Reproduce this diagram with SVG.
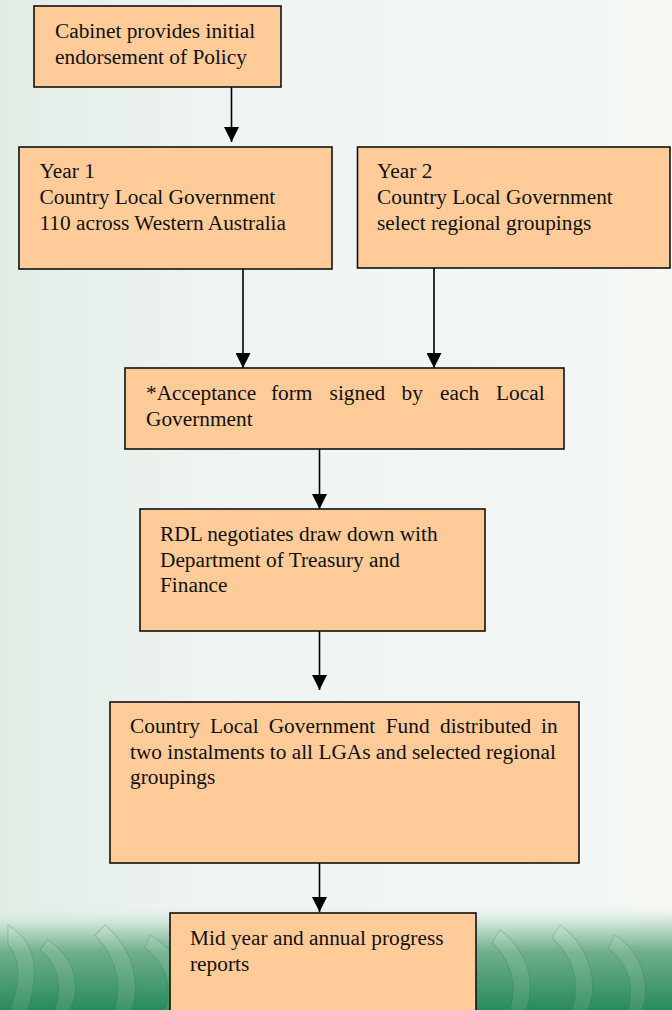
<svg xmlns="http://www.w3.org/2000/svg" width="672" height="1010" viewBox="0 0 672 1010">
<defs>
<linearGradient id="bgH" x1="0" y1="0" x2="1" y2="0">
<stop offset="0" stop-color="#e2ece5"/>
<stop offset="0.3" stop-color="#eef4f1"/>
<stop offset="0.9" stop-color="#f2f7f5"/>
<stop offset="0.97" stop-color="#f8f8f3"/>
<stop offset="1" stop-color="#fbf8f2"/>
</linearGradient>
<linearGradient id="bgV" x1="0" y1="905" x2="0" y2="1010" gradientUnits="userSpaceOnUse">
<stop offset="0" stop-color="#e8f1ec" stop-opacity="0"/>
<stop offset="0.15" stop-color="#d3e8dc"/>
<stop offset="0.45" stop-color="#6fae8c"/>
<stop offset="1" stop-color="#2a8a5c"/>
</linearGradient>
<marker id="ah" viewBox="0 0 10 10" refX="10" refY="5" markerWidth="15" markerHeight="15" markerUnits="userSpaceOnUse" orient="auto">
<path d="M0,0 L10,5 L0,10 z" fill="#000"/>
</marker>
<style>
.box{fill:#ffcc99;stroke:#111;stroke-width:1.6}
.t{font-family:"Liberation Serif","Times New Roman",serif;font-size:21.33px;fill:#111}
.c{stroke:#000;stroke-width:1.6;fill:none}
.leaf{fill:#ffffff;fill-opacity:0.12;stroke:#1f7a50;stroke-opacity:0.25;stroke-width:1.2}
</style>
</defs>
<g id="background">
<rect x="0" y="0" width="672" height="1010" fill="url(#bgH)"/>
<rect x="0" y="905" width="672" height="105" fill="url(#bgV)"/>
<g opacity="0.8">
<path class="leaf" d="M8,925 C40,945 38,975 28,1010 L10,1010 C20,985 22,960 8,945 Z"/>
<path class="leaf" d="M48,940 C78,960 80,990 70,1010 L55,1010 C62,990 60,965 40,950 Z"/>
<path class="leaf" d="M105,925 C135,950 140,985 132,1010 L115,1010 C122,985 118,960 95,935 Z"/>
<path class="leaf" d="M150,935 C185,955 190,985 180,1010 L165,1010 C172,988 168,965 145,948 Z"/>
<path class="leaf" d="M500,930 C530,952 535,985 526,1010 L510,1010 C517,988 513,962 492,943 Z"/>
<path class="leaf" d="M560,925 C592,948 598,985 588,1010 L572,1010 C580,986 576,960 552,938 Z"/>
<path class="leaf" d="M615,935 C645,955 650,988 642,1010 L628,1010 C634,988 630,965 608,948 Z"/>
</g>
</g>
<g id="connectors">
<line class="c" x1="231.5" y1="87" x2="231.5" y2="142" marker-end="url(#ah)"/>
<line class="c" x1="243" y1="268" x2="243" y2="368" marker-end="url(#ah)"/>
<line class="c" x1="434" y1="268" x2="434" y2="368" marker-end="url(#ah)"/>
<line class="c" x1="319.5" y1="449" x2="319.5" y2="509" marker-end="url(#ah)"/>
<line class="c" x1="319.5" y1="631" x2="319.5" y2="690" marker-end="url(#ah)"/>
<line class="c" x1="319.5" y1="860" x2="319.5" y2="912" marker-end="url(#ah)"/>
</g>
<g id="n1">
<rect class="box" x="34" y="6" width="247" height="81"/>
<text class="t" x="55" y="38">Cabinet provides initial</text>
<text class="t" x="55" y="63.5">endorsement of Policy</text>
</g>
<g id="n2">
<rect class="box" x="19" y="147" width="313" height="122"/>
<text class="t" x="39.5" y="178">Year 1</text>
<text class="t" x="39.5" y="204">Country Local Government</text>
<text class="t" x="39.5" y="230">110 across Western Australia</text>
</g>
<g id="n3">
<rect class="box" x="357.5" y="147" width="312.5" height="121"/>
<text class="t" x="377" y="178">Year 2</text>
<text class="t" x="377" y="204">Country Local Government</text>
<text class="t" x="377" y="230">select regional groupings</text>
</g>
<g id="n4">
<rect class="box" x="125" y="368" width="439" height="81"/>
<text class="t" y="400"><tspan x="146">*Acceptance</tspan><tspan x="271">form</tspan><tspan x="329.6">signed</tspan><tspan x="401.6">by</tspan><tspan x="440">each</tspan><tspan x="496">Local</tspan></text>
<text class="t" x="146" y="426">Government</text>
</g>
<g id="n5">
<rect class="box" x="140" y="509" width="345" height="122"/>
<text class="t" x="160" y="541">RDL negotiates draw down with</text>
<text class="t" x="160" y="567">Department of Treasury and</text>
<text class="t" x="160" y="592">Finance</text>
</g>
<g id="n6">
<rect class="box" x="110" y="702" width="469" height="161"/>
<text class="t" y="733"><tspan x="130">Country</tspan><tspan x="210">Local</tspan><tspan x="268.7">Government</tspan><tspan x="385.7">Fund</tspan><tspan x="440">distributed</tspan><tspan x="541">in</tspan></text>
<text class="t" x="130" y="759">two instalments to all LGAs and selected regional</text>
<text class="t" x="130" y="784">groupings</text>
</g>
<g id="n7">
<rect class="box" x="170" y="913" width="306" height="110"/>
<text class="t" x="190" y="945">Mid year and annual progress</text>
<text class="t" x="190" y="971">reports</text>
</g>
</svg>
